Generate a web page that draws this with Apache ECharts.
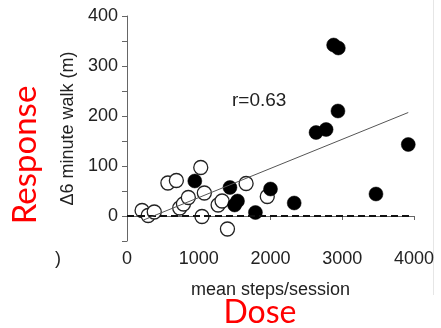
<!DOCTYPE html>
<html>
<head>
<meta charset="utf-8">
<script src="https://cdn.jsdelivr.net/npm/echarts@6/dist/echarts.min.js"></script>
<style>
  html, body { margin: 0; padding: 0; background: #fff; }
  #chart { width: 441px; height: 328px; }
</style>
</head>
<body>
<div id="chart"></div>
<script>
// open circles
const openX = [210, 295, 380, 570, 688, 735, 787, 855, 1028, 1078, 1045, 1270, 1325, 1400, 1660, 1955]
const openY = [11, 1, 8, 66, 71, 16, 24, 37, 97, 46, -1, 22, 30, -26, 65, 39]
// filled circles
const filledX = [945, 1435, 1500, 1540, 1790, 2000, 2330, 2635, 2775, 2940, 2880, 2945, 3470, 3920]
const filledY = [70, 57, 22, 30, 7, 54, 26, 167, 173, 210, 342, 336, 44, 143]
// regression line ends
const trendX = [230, 3920]
const trendY = [-8, 207]
const zeroX = [0, 3985]
const zeroY = [0, 0]
const xTicks = [0, 1000, 2000, 3000, 4000]
const yTicks = [0, 100, 200, 300, 400]

const zip = (xs, ys) => xs.map((x, i) => [x, ys[i]])
const font = '"Liberation Sans", Arial, sans-serif'

const chart = echarts.init(document.getElementById('chart'))
chart.setOption({
    animation: false,
    grid: { left: 127, right: 27, top: 16, bottom: 87 },
    xAxis: {
        type: 'value',
        min: 0, max: 4000, interval: 1000,
        splitLine: { show: false },
        axisLine: { lineStyle: { color: '#666', width: 1 } },
        axisTick: { length: 4, lineStyle: { color: '#666' } },
        axisLabel: {
            margin: 9, fontSize: 18, fontFamily: font, color: '#222',
            formatter: v => xTicks.includes(v) ? String(v) : ''
        },
        name: 'mean steps/session',
        nameLocation: 'middle',
        nameGap: 40,
        nameTextStyle: { fontSize: 18, fontFamily: font, color: '#222' }
    },
    yAxis: {
        type: 'value',
        min: -50, max: 400, interval: 50,
        splitLine: { show: false },
        axisLine: { show: true, lineStyle: { color: '#666', width: 1 } },
        axisTick: { show: true, length: 5, lineStyle: { color: '#666' } },
        axisLabel: {
            margin: 9, fontSize: 18, fontFamily: font, color: '#222',
            formatter: v => yTicks.includes(v) ? String(v) : ''
        },
        name: 'Δ6 minute walk (m)',
        nameLocation: 'middle',
        nameGap: 48,
        nameTextStyle: { fontSize: 18, fontFamily: font, color: '#222' }
    },
    series: [
        {
            type: 'line',
            data: zip(zeroX, zeroY),
            symbol: 'none',
            silent: true,
            lineStyle: { color: '#111', width: 1.8, type: [7, 4] }
        },
        {
            type: 'line',
            data: zip(trendX, trendY),
            symbol: 'none',
            silent: true,
            lineStyle: { color: '#555', width: 1 }
        },
        {
            type: 'scatter',
            data: zip(openX, openY),
            symbolSize: 14,
            itemStyle: { color: '#fff', borderColor: '#222', borderWidth: 1.3, opacity: 1 }
        },
        {
            type: 'scatter',
            data: zip(filledX, filledY),
            symbolSize: 14,
            itemStyle: { color: '#000', borderColor: '#000', borderWidth: 0.5, opacity: 1 }
        }
    ],
    graphic: [
        {
            type: 'text', left: 232, top: 91,
            style: { text: 'r=0.63', fontSize: 19, fontFamily: font, fill: '#222' }
        },
        {
            type: 'text', x: 25, y: 155, rotation: Math.PI / 2,
            style: { text: 'Response', fontSize: 33, fontFamily: 'Lato, sans-serif', fill: '#ff0000', align: 'center', verticalAlign: 'middle' }
        },
        {
            type: 'text', x: 260, y: 313,
            style: { text: 'Dose', fontSize: 32, fontFamily: 'Lato, sans-serif', fill: '#ff0000', align: 'center', verticalAlign: 'middle' }
        },
        {
            type: 'text', x: 55, y: 259,
            style: { text: ')', fontSize: 18, fontFamily: font, fill: '#222', verticalAlign: 'middle' }
        },
        {
            type: 'line', shape: { x1: 433.5, y1: 0, x2: 433.5, y2: 295 },
            style: { stroke: '#e6e6e6', lineWidth: 1 }
        }
    ]
})
</script>
</body>
</html>
